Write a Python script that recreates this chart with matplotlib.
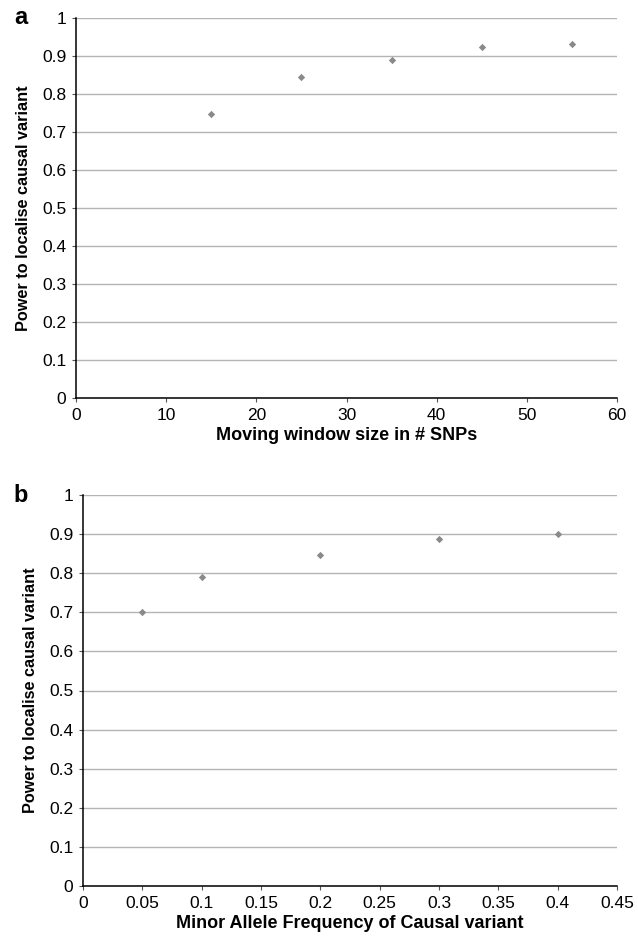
import matplotlib.pyplot as plt

plt.rcParams['font.family'] = ['Liberation Sans', 'DejaVu Sans']

# panel a: moving window size
window_sizes = [15, 25, 35, 45, 55]
power_window = [0.748, 0.846, 0.889, 0.924, 0.931]

# panel b: minor allele frequency
maf = [0.05, 0.1, 0.2, 0.3, 0.4]
power_maf = [0.700, 0.791, 0.846, 0.887, 0.901]

y_ticks = [0, 0.1, 0.2, 0.3, 0.4, 0.5, 0.6, 0.7, 0.8, 0.9, 1]
y_labels = ['0', '0.1', '0.2', '0.3', '0.4', '0.5', '0.6', '0.7', '0.8', '0.9', '1']
xa_ticks = [0, 10, 20, 30, 40, 50, 60]
xb_ticks = [0, 0.05, 0.1, 0.15, 0.2, 0.25, 0.3, 0.35, 0.4, 0.45]
xb_labels = ['0', '0.05', '0.1', '0.15', '0.2', '0.25', '0.3', '0.35', '0.4', '0.45']

fig = plt.figure(figsize=(6.38, 9.43), dpi=100)
W, H = 638, 943


def make_ax(l, r, t, b):
    return fig.add_axes([l / W, 1 - b / H, (r - l) / W, (b - t) / H])


def style(ax, x, y, xticks, xlabels, xlabel, letter, letter_x):
    ax.scatter(x, y, marker='D', s=14, color='#8a8a8a', zorder=3, linewidths=0)
    ax.set_ylim(0, 1)
    ax.set_yticks(y_ticks)
    ax.set_yticklabels(y_labels)
    ax.set_xticks(xticks)
    ax.set_xticklabels(xlabels)
    ax.set_xlim(xticks[0], xticks[-1])
    ax.grid(axis='y', color='#b4b4b4', linewidth=1)
    ax.set_axisbelow(True)
    for s in ['top', 'right']:
        ax.spines[s].set_visible(False)
    for s in ['left', 'bottom']:
        ax.spines[s].set_linewidth(1.1)
    ax.tick_params(axis='both', direction='out', length=3, width=0.8,
                   labelsize=12.5, pad=4, color='#555555')
    ax.set_xlabel(xlabel, fontsize=13, fontweight='bold', labelpad=3)
    ax.set_ylabel('Power to localise causal variant', fontsize=11.7,
                  fontweight='bold', labelpad=8)
    ax.text(letter_x, 0.0, letter, transform=ax.transAxes, fontsize=17,
            fontweight='bold', ha='left', va='center')


ax1 = make_ax(76, 617, 18, 398)
style(ax1, window_sizes, power_window, xa_ticks, [str(v) for v in xa_ticks],
      'Moving window size in # SNPs', 'a', 0)
ax1.texts[0].set_position((-0.115, 1.0))

ax2 = make_ax(83, 617, 495, 886)
style(ax2, maf, power_maf, xb_ticks, xb_labels,
      'Minor Allele Frequency of Causal variant', 'b', 0)
ax2.texts[0].set_position((-0.13, 1.0))

fig.savefig('out.png', dpi=100)
